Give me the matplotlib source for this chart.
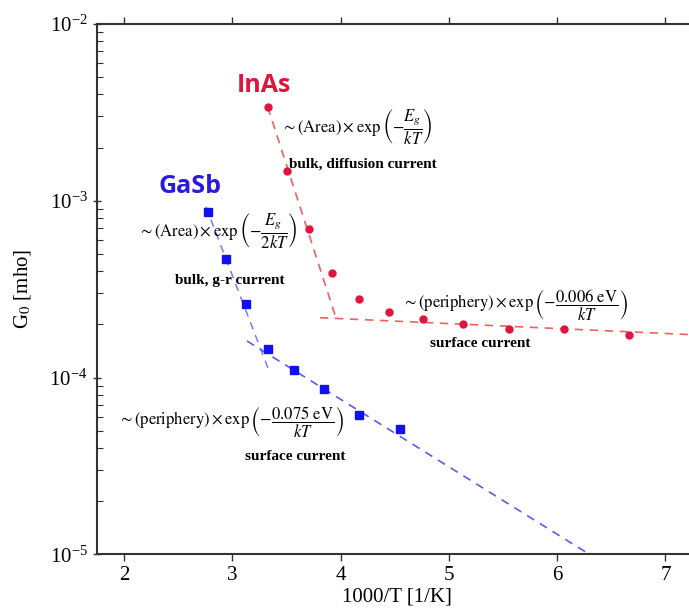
import matplotlib
matplotlib.use("Agg")
import matplotlib.pyplot as plt
import numpy as np

plt.rcParams["mathtext.fontset"] = "stix"
plt.rcParams["font.family"] = ["Liberation Serif", "DejaVu Serif"]

# InAs conductance vs inverse temperature
inas_x = [3.333, 3.509, 3.704, 3.922, 4.167, 4.444, 4.762, 5.128, 5.556, 6.061, 6.667]
inas_g = [3.39e-3, 1.48e-3, 6.92e-4, 3.90e-4, 2.79e-4, 2.34e-4, 2.13e-4, 2.02e-4, 1.89e-4, 1.89e-4, 1.74e-4]

# GaSb conductance vs inverse temperature
gasb_x = [2.778, 2.941, 3.125, 3.333, 3.571, 3.846, 4.167, 4.545]
gasb_g = [8.59e-4, 4.70e-4, 2.59e-4, 1.45e-4, 1.11e-4, 8.63e-5, 6.10e-5, 5.13e-5]

# Fitted regimes (end points of each dashed line)
inas_bulk_x = [3.327, 3.957]
inas_bulk_g = [3.40e-3, 2.18e-4]
inas_surf_x = [3.81, 7.4]
inas_surf_g = [2.18e-4, 1.73e-4]
gasb_bulk_x = [2.757, 3.330]
gasb_bulk_g = [9.25e-4, 1.13e-4]
gasb_surf_x = [3.136, 6.32]
gasb_surf_g = [1.61e-4, 9.8e-6]

red = "#e0143c"
red_line = "#f06060"
blue = "#1010f0"
blue_line = "#5a5af0"

fig = plt.figure(figsize=(6.89, 6.15), dpi=100)
ax = fig.add_axes([0.1403, 0.0987, 0.8727, 0.8623])
ax.set_yscale("log")
ax.set_xlim(1.748, 7.3)
ax.set_ylim(1e-5, 1e-2)

dash = (5, 4)
ax.plot(inas_bulk_x, inas_bulk_g, ls="--", dashes=dash, color=red_line, lw=1.2)
ax.plot(inas_surf_x, inas_surf_g, ls="--", dashes=dash, color=red_line, lw=1.2)
ax.plot(gasb_bulk_x, gasb_bulk_g, ls="--", dashes=dash, color=blue_line, lw=1.1, alpha=0.8)
ax.plot(gasb_surf_x, gasb_surf_g, ls="--", dashes=dash, color=blue_line, lw=1.2)

ax.plot(inas_x, inas_g, "o", color=red, ms=5, mec=red, zorder=5)
ax.plot(gasb_x, gasb_g, "s", color=blue, ms=6.2, mec=blue, zorder=5)

# Material labels
ax.text(3.29, 4.48e-3, "InAs", color=red, fontsize=18, fontweight="bold",
        family=["Open Sans", "DejaVu Sans"], ha="center", va="center")
ax.text(2.61, 1.2e-3, "GaSb", color="#2a1ae0", fontsize=18, fontweight="bold",
        family=["Open Sans", "DejaVu Sans"], ha="center", va="center")

mfs = 12
bfs = 11
ax.text(3.45, 2.59e-3, r"$\sim\left(\mathrm{Area}\right)\times\exp\left(-\dfrac{E_g}{kT}\right)$",
        fontsize=mfs, ha="left", va="center")
ax.text(4.21, 1.62e-3, "bulk, diffusion current", fontsize=bfs, fontweight="bold",
        ha="center", va="center")

ax.text(2.13, 6.68e-4, r"$\sim\left(\mathrm{Area}\right)\times\exp\left(-\dfrac{E_g}{2kT}\right)$",
        fontsize=mfs, ha="left", va="center")
ax.text(2.98, 3.52e-4, "bulk, g-r current", fontsize=bfs, fontweight="bold",
        ha="center", va="center")

ax.text(4.57, 2.55e-4, r"$\sim\left(\mathrm{periphery}\right)\times\exp\left(-\dfrac{0.006\ \mathrm{eV}}{kT}\right)$",
        fontsize=mfs, ha="left", va="center")
ax.text(5.29, 1.56e-4, "surface current", fontsize=bfs, fontweight="bold",
        ha="center", va="center")

ax.text(1.945, 5.6e-5, r"$\sim\left(\mathrm{periphery}\right)\times\exp\left(-\dfrac{0.075\ \mathrm{eV}}{kT}\right)$",
        fontsize=mfs, ha="left", va="center")
ax.text(3.58, 3.56e-5, "surface current", fontsize=bfs, fontweight="bold",
        ha="center", va="center")

ax.set_xticks([2, 3, 4, 5, 6, 7])
ax.tick_params(axis="x", which="major", direction="out", length=5, width=1,
               top=True, labelsize=15, colors="#333333", labelcolor="black")
ax.tick_params(axis="y", which="major", direction="inout", length=6, width=1,
               labelsize=15, colors="#333333", labelcolor="black")
ax.tick_params(axis="y", which="minor", direction="in", length=4, width=0.8,
               colors="#333333")
ax.tick_params(axis="x", which="minor", bottom=False, top=False)

for side in ["left", "bottom", "top"]:
    ax.spines[side].set_linewidth(1.5)
    ax.spines[side].set_color("#333333")
ax.spines["right"].set_visible(False)

ax.set_xlabel("1000/T [1/K]", fontsize=15, labelpad=2)
ax.set_ylabel(r"G$_0$ [mho]", fontsize=15, labelpad=12)

fig.savefig("out.png", dpi=100)
